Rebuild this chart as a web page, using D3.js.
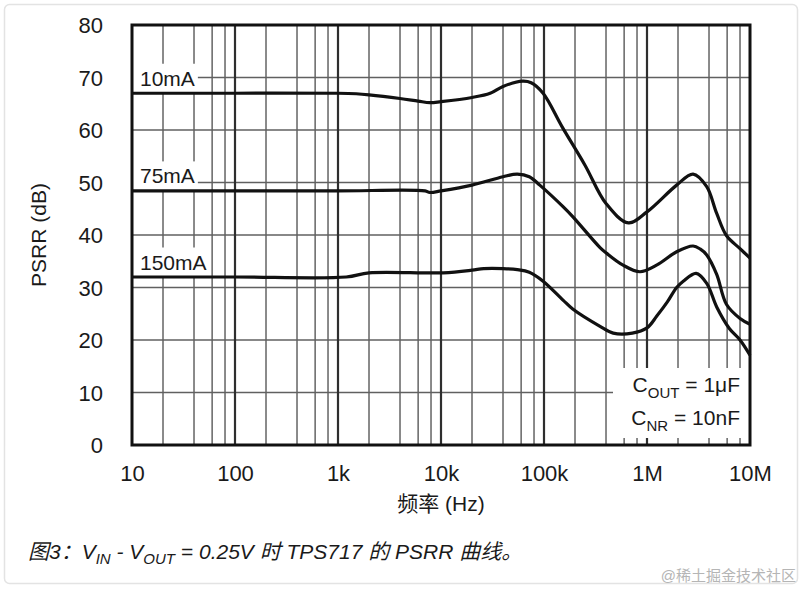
<!DOCTYPE html>
<html>
<head>
<meta charset="utf-8">
<script src="https://cdn.jsdelivr.net/npm/d3@7"></script>
<style>
  body { margin: 0; background: #fff; }
  text { font-family: "Liberation Sans", Arial, "Noto Sans CJK SC", sans-serif; fill: #1a1a1a; }
</style>
</head>
<body>
<svg id="chart" width="803" height="589"></svg>
<script>
// values
var seriesNames = ['10mA', '75mA', '150mA'];

var freq10mA = [10, 100, 1000, 1500, 2000, 4000, 6000, 7800, 10000, 20000, 30000, 40000, 62000, 75000, 98000, 150000, 250000, 400000, 660000, 1e6, 1.94e6, 2.8e6, 3.8e6, 4.75e6, 5.9e6, 8e6, 1e7];
var psrr10mA = [67, 67, 67, 66.9, 66.7, 66.0, 65.5, 65.2, 65.4, 66.2, 67.0, 68.3, 69.3, 69.0, 67.0, 60.6, 53.3, 46.0, 42.3, 44.4, 49.5, 51.6, 49.2, 44.1, 39.9, 37.4, 35.6];

var freq75mA = [10, 100, 1000, 7000, 7800, 10000, 20000, 40000, 55000, 72000, 91000, 153000, 190000, 350000, 406000, 580000, 855000, 1.25e6, 1.94e6, 2.8e6, 3.3e6, 3.8e6, 4.75e6, 5.9e6, 8e6, 1e7];
var psrr75mA = [48.4, 48.4, 48.4, 48.4, 48.1, 48.4, 49.5, 51.1, 51.6, 51.1, 49.5, 45.4, 43.5, 37.6, 36.5, 34.3, 33.0, 34.3, 36.8, 37.9, 37.3, 36.2, 32.5, 26.8, 24.1, 23.0];

var freq150mA = [10, 100, 1200, 2000, 10500, 20000, 26000, 40000, 55000, 72000, 98000, 153000, 190000, 350000, 470000, 720000, 1e6, 1.25e6, 1.57e6, 1.94e6, 2.25e6, 3e6, 3.8e6, 4.75e6, 6.3e6, 8e6, 1e7];
var psrr150mA = [32.0, 32.0, 32.0, 32.8, 32.8, 33.3, 33.6, 33.6, 33.4, 32.9, 31.2, 27.6, 25.9, 22.6, 21.3, 21.3, 22.3, 24.6, 27.2, 30.0, 31.2, 32.7, 30.8, 26.3, 22.2, 20.0, 17.1];

var xTickValues = [10, 100, 1000, 10000, 100000, 1e6, 1e7];
var xTickLabels = ['10', '100', '1k', '10k', '100k', '1M', '10M'];
var yTickValues = [0, 10, 20, 30, 40, 50, 60, 70, 80];
var minorSteps = [2, 4, 6, 8];

var series = [
  {name: seriesNames[0], f: freq10mA, v: psrr10mA},
  {name: seriesNames[1], f: freq75mA, v: psrr75mA},
  {name: seriesNames[2], f: freq150mA, v: psrr150mA}
];

var svg = d3.select('#chart');

// outer card
svg.append('rect')
  .attr('x', 4.5).attr('y', 4.5)
  .attr('width', 793).attr('height', 579)
  .attr('rx', 5)
  .attr('fill', '#fff')
  .attr('stroke', '#e3e3e3')
  .attr('stroke-width', 1.5);

var x = d3.scaleLog().domain([10, 1e7]).range([132, 750]);
var y = d3.scaleLinear().domain([0, 80]).range([445, 25]);

var grid = svg.append('g');

// minor vertical lines
var minors = [];
xTickValues.slice(0, -1).forEach(function(d) {
  minorSteps.forEach(function(m) { minors.push(d * m); });
});
grid.selectAll('line.minor')
  .data(minors)
  .enter().append('line')
  .attr('x1', function(d) { return x(d); })
  .attr('x2', function(d) { return x(d); })
  .attr('y1', y(80)).attr('y2', y(0))
  .attr('stroke', '#6e6e6e')
  .attr('stroke-width', 1.6);

// horizontal lines
grid.selectAll('line.h')
  .data(yTickValues.slice(1, -1))
  .enter().append('line')
  .attr('x1', x(10)).attr('x2', x(1e7))
  .attr('y1', function(d) { return y(d); })
  .attr('y2', function(d) { return y(d); })
  .attr('stroke', '#606060')
  .attr('stroke-width', 1.6);

// decade lines
grid.selectAll('line.major')
  .data(xTickValues.slice(1, -1))
  .enter().append('line')
  .attr('x1', function(d) { return x(d); })
  .attr('x2', function(d) { return x(d); })
  .attr('y1', y(80)).attr('y2', y(0))
  .attr('stroke', '#2e2e2e')
  .attr('stroke-width', 2.2);

// C_OUT / C_NR note box (white, hides grid)
svg.append('rect')
  .attr('x', 613).attr('y', 368)
  .attr('width', x(1e7) - 613).attr('height', 70)
  .attr('fill', '#fff');

var line = d3.line()
  .x(function(d) { return x(d[0]); })
  .y(function(d) { return y(d[1]); })
  .curve(d3.curveCatmullRom.alpha(0.5));

// series labels with white backing
series.forEach(function(s) {
  var cy = y(s.v[0]);
  var base = cy - 7.5;
  var g = svg.append('g');
  var bg = g.append('rect').attr('fill', '#fff');
  var t = g.append('text')
    .attr('x', 140)
    .attr('y', base)
    .style('font-size', '21px')
    .text(s.name);
  var w = t.node().getComputedTextLength();
  bg.attr('x', x(10) + 1)
    .attr('y', base - 22)
    .attr('width', 140 + w + 3 - (x(10) + 1))
    .attr('height', cy - (base - 22));
});

// curves
svg.selectAll('path.curve')
  .data(series)
  .enter().append('path')
  .attr('d', function(s) { return line(s.f.map(function(f, i) { return [f, s.v[i]]; })); })
  .attr('fill', 'none')
  .attr('stroke', '#111')
  .attr('stroke-width', 3.2)
  .attr('stroke-linejoin', 'round');

// plot frame
svg.append('rect')
  .attr('x', x(10)).attr('y', y(80))
  .attr('width', x(1e7) - x(10)).attr('height', y(0) - y(80))
  .attr('fill', 'none')
  .attr('stroke', '#111')
  .attr('stroke-width', 3);

// axes
var xAxis = svg.append('g')
  .attr('transform', 'translate(0,' + y(0) + ')')
  .call(d3.axisBottom(x)
    .tickValues(xTickValues)
    .tickFormat(function(d, i) { return xTickLabels[i]; })
    .tickSize(0)
    .tickPadding(20));
xAxis.select('.domain').remove();
xAxis.selectAll('text')
  .attr('fill', '#1a1a1a')
  .style('font-size', '22px')
  .style('font-family', '"Liberation Sans", Arial, sans-serif');

var yAxis = svg.append('g')
  .attr('transform', 'translate(' + x(10) + ',0)')
  .call(d3.axisLeft(y)
    .tickValues(yTickValues)
    .tickSize(0)
    .tickPadding(29));
yAxis.select('.domain').remove();
yAxis.selectAll('text')
  .attr('fill', '#1a1a1a')
  .attr('dy', '0.36em')
  .style('font-size', '22px')
  .style('font-family', '"Liberation Sans", Arial, sans-serif');

// axis titles
svg.append('text')
  .attr('transform', 'translate(46,235) rotate(-90)')
  .attr('text-anchor', 'middle')
  .style('font-size', '21px')
  .text('PSRR (dB)');

svg.append('text')
  .attr('x', 441).attr('y', 511)
  .attr('text-anchor', 'middle')
  .style('font-size', '21px')
  .text('频率 (Hz)');

// capacitor note
var note1 = svg.append('text')
  .attr('x', 740).attr('y', 391.5)
  .attr('text-anchor', 'end')
  .style('font-size', '21px');
note1.append('tspan').text('C');
note1.append('tspan').attr('dy', 6).style('font-size', '15px').text('OUT');
note1.append('tspan').attr('dy', -6).text(' = 1\u03bcF');

var note2 = svg.append('text')
  .attr('x', 740).attr('y', 425)
  .attr('text-anchor', 'end')
  .style('font-size', '21px');
note2.append('tspan').text('C');
note2.append('tspan').attr('dy', 6).style('font-size', '15px').text('NR');
note2.append('tspan').attr('dy', -6).text(' = 10nF');

// caption
var cap = svg.append('text')
  .attr('x', 28).attr('y', 559)
  .style('font-size', '21px')
  .style('font-style', 'italic')
  .attr('fill', '#222');
cap.append('tspan').text('图3：V');
cap.append('tspan').attr('dy', 5).style('font-size', '15px').text('IN');
cap.append('tspan').attr('dy', -5).text(' - V');
cap.append('tspan').attr('dy', 5).style('font-size', '15px').text('OUT');
cap.append('tspan').attr('dy', -5).text(' = 0.25V 时 TPS717 的 PSRR 曲线。');

// watermark
svg.append('text')
  .attr('x', 796).attr('y', 581)
  .attr('text-anchor', 'end')
  .style('font-size', '15px')
  .style('fill', '#b5b5b5')
  .text('@稀土掘金技术社区');
</script>
</body>
</html>
